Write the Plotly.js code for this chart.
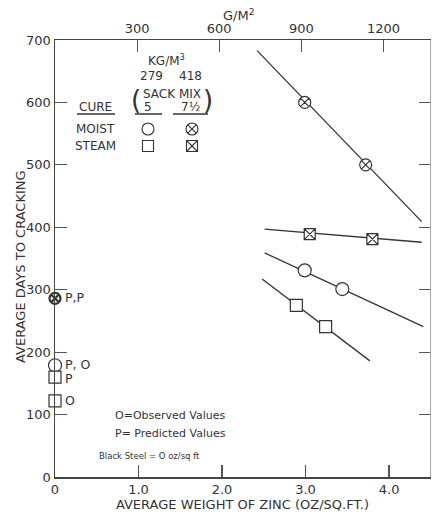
<!DOCTYPE html>
<html><head><meta charset="utf-8">
<script src="https://cdn.plot.ly/plotly-3.0.1.min.js"></script>
<style>html,body{margin:0;padding:0;background:#fff}</style>
</head><body><div id="c" style="width:432px;height:514px"></div>
<script>
// Data (x: average weight of zinc, oz/sq ft; y: average days to cracking)
const moist75_x = [2.99, 3.72];  const moist75_y = [600, 500];
const moist75_fitx = [2.42, 4.39]; const moist75_fity = [683, 409];
const steam75_x = [3.05, 3.80];  const steam75_y = [389, 381];
const steam75_fitx = [2.51, 4.39]; const steam75_fity = [397, 376];
const moist5_x = [2.99, 3.44];   const moist5_y = [331, 301];
const moist5_fitx = [2.51, 4.41]; const moist5_fity = [359, 241];
const steam5_x = [2.89, 3.24];   const steam5_y = [275, 241];
const steam5_fitx = [2.48, 3.77]; const steam5_fity = [317, 186];
// Black steel (0 oz/sq ft)
const bs_moist75_y = [286]; const bs_moist5_y = [179];
const bs_steam5_y = [160, 122];
const bs_labels = ["P,P", "P, O", "P", "O"];
const bs_label_y = [288, 181, 158, 122];
const xTicks = [0, 1, 2, 3, 4]; const xTickText = ["0", "1.0", "2.0", "3.0", "4.0"];
const yTicks = [0, 100, 200, 300, 400, 500, 600, 700];
const topTicks = [300, 600, 900, 1200];
const G_PER_OZ = 305.15;

const INK = '#333';
const FONT = 'DejaVu Sans, sans-serif';
const XMAX = 4.49;
const L = 55, T = 40, W = 375, H = 437;
const px = x => (x - L) / W, py = y => (T + H - y) / H;

function fit(x, y) { return {x, y, type:'scatter', mode:'lines', line:{color:INK, width:1.3}, hoverinfo:'skip', showlegend:false}; }
function pts(x, y, sym, sz, lw) { return {x, y, type:'scatter', mode:'markers', cliponaxis:false,
  marker:{symbol:sym, size:sz, color:'#fff', line:{color:INK, width:lw||1.2}}, showlegend:false}; }

const traces = [
  fit(moist75_fitx, moist75_fity), fit(steam75_fitx, steam75_fity),
  fit(moist5_fitx, moist5_fity), fit(steam5_fitx, steam5_fity),
  pts(moist75_x, moist75_y, 'circle-x', 12), pts(steam75_x, steam75_y, 'square-x', 11),
  pts(moist5_x, moist5_y, 'circle', 13), pts(steam5_x, steam5_y, 'square', 12),
  pts([0], bs_moist75_y, 'circle-x', 11, 2.2), pts([0], bs_moist5_y, 'circle', 13),
  pts(bs_steam5_y.map(() => 0), bs_steam5_y, 'square', 12),
  {x:[0, XMAX*G_PER_OZ], y:[0,0], xaxis:'x2', type:'scatter', mode:'none', hoverinfo:'skip', showlegend:false},
  {x:[0, 1], y:[0, 700], yaxis:'y2', type:'scatter', mode:'none', hoverinfo:'skip', showlegend:false}
];

const ann = [];
bs_labels.forEach((t, i) => ann.push({x:0, y:bs_label_y[i], xref:'x', yref:'y', text:t, showarrow:false,
  xanchor:'left', xshift:8, font:{size:12.5, color:INK, family:FONT}}));
function pa(xp, yp, text, size, anchor, angle) {
  ann.push({x:px(xp), y:py(yp), xref:'paper', yref:'paper', text, showarrow:false, textangle:angle||0,
    xanchor:anchor||'center', yanchor:'middle', font:{size:size||12, color:INK, family:FONT}});
}
pa(238, 15, 'G/M<sup>2</sup>', 13);
pa(166, 60, 'KG/M<sup>3</sup>', 12);
pa(151, 76, '279', 12); pa(190, 76, '418', 12);
pa(172, 94, 'SACK MIX', 12);
pa(148, 107, '5', 12); pa(190, 107, '7½', 12);
pa(136, 100, '(', 26); pa(208, 100, ')', 26);
pa(95, 107, 'CURE', 12);
pa(95, 129, 'MOIST', 12); pa(95, 146, 'STEAM', 12);
pa(113, 415, 'O=Observed Values', 11, 'left');
pa(113, 433, 'P= Predicted Values', 11, 'left');
pa(97, 456, 'Black Steel = O oz/sq ft', 8.5, 'left');
pa(20, 267, 'AVERAGE DAYS TO CRACKING', 13, 'center', -90);

const LS = {color:INK, width:1.1};
function pl(x0, y0, x1, y1, line) { return {type:'line', xref:'paper', yref:'paper', x0:px(x0), x1:px(x1), y0:py(y0), y1:py(y1), line:line||LS}; }
function glyph(kind, cx, cy, r, cross) {
  const s = [{type:kind, xref:'paper', yref:'paper', x0:px(cx-r), x1:px(cx+r), y0:py(cy-r), y1:py(cy+r), line:LS}];
  if (cross) { const d = kind === 'circle' ? r*0.7 : r;
    s.push(pl(cx-d, cy-d, cx+d, cy+d), pl(cx-d, cy+d, cx+d, cy-d)); }
  return s;
}
const shapes = [
  pl(77,114,115,114,{color:INK,width:1.5}), pl(135,114,162,114,{color:INK,width:1.5}), pl(173,114,208,114,{color:INK,width:1.5}),
  ...glyph('circle', 148, 129, 6, false), ...glyph('circle', 192, 129, 6, true),
  ...glyph('rect', 148, 146, 5.5, false), ...glyph('rect', 192, 146, 5.5, true)
];

const axisCommon = {showgrid:false, zeroline:false, showline:true, linecolor:'#444', linewidth:1.5,
  ticks:'inside', ticklen:12, tickcolor:'#555', tickwidth:1.2, tickfont:{size:13, color:INK, family:FONT}};

const layout = {
  width:432, height:514, margin:{l:L, r:432-L-W, t:T, b:514-T-H},
  paper_bgcolor:'#fff', plot_bgcolor:'#fff', font:{family:FONT, color:INK},
  showlegend:false,
  xaxis: Object.assign({}, axisCommon, {range:[0, XMAX], tickvals:xTicks, ticktext:xTickText,
    title:{text:'AVERAGE WEIGHT OF ZINC (OZ/SQ.FT.)', font:{size:13, color:INK, family:FONT}, standoff:2}}),
  xaxis2: Object.assign({}, axisCommon, {overlaying:'x', side:'top', range:[0, XMAX*G_PER_OZ], tickvals:topTicks}),
  yaxis: Object.assign({}, axisCommon, {range:[0, 700], tickvals:yTicks}),
  yaxis2: Object.assign({}, axisCommon, {overlaying:'y', side:'right', range:[0, 700], tickvals:yTicks,
    showticklabels:false, linecolor:'#aaa', linewidth:1, ticklen:11}),
  annotations: ann, shapes
};
Plotly.newPlot('c', traces, layout, {staticPlot:true, displayModeBar:false});
</script></body></html>
